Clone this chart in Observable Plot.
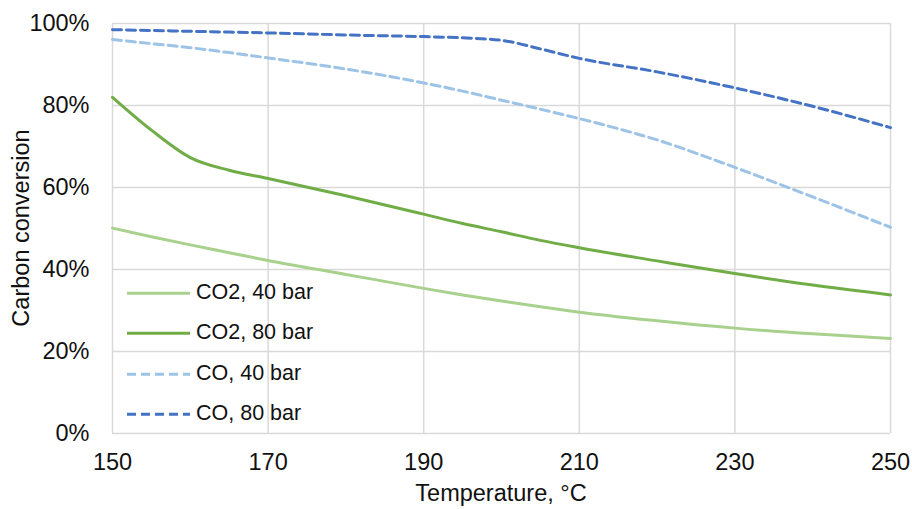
<!DOCTYPE html>
<html>
<head>
<meta charset="utf-8">
<script src="https://cdn.jsdelivr.net/npm/d3@7"></script>
<script src="https://cdn.jsdelivr.net/npm/@observablehq/plot@0.6"></script>
<style>
  body { margin: 0; background: #fff; font-family: "Liberation Sans", Arial, sans-serif; }
  #wrap { position: relative; width: 912px; height: 509px; }
  .lab { position: absolute; font-size: 23.5px; color: #111; white-space: nowrap; line-height: 1; }
  .row { position: absolute; left: 127px; display: flex; align-items: center; font-size: 21.5px; color: #111; line-height: 1; transform: translateY(-50%); white-space: nowrap; }
  .row svg { margin-right: 6px; }
</style>
</head>
<body>
<div id="wrap"></div>
<script>
const temps   = [150, 155, 160, 165, 170, 180, 190, 195, 200, 205, 210, 220, 230, 240, 250];
const co2_40  = [50.1, 48.0, 46.0, 44.1, 42.2, 38.8, 35.4, 33.8, 32.3, 30.9, 29.6, 27.5, 25.7, 24.3, 23.2];
const co2_80  = [82.0, 74.0, 67.3, 64.2, 62.2, 58.0, 53.5, 51.2, 49.2, 47.1, 45.3, 42.1, 39.0, 36.2, 33.8];
const co_40   = [96.1, 95.1, 94.1, 92.9, 91.6, 88.9, 85.5, 83.5, 81.3, 79.1, 76.8, 71.6, 64.9, 57.7, 50.3];
const co_80   = [98.5, 98.3, 98.1, 97.9, 97.7, 97.2, 96.8, 96.5, 95.9, 93.8, 91.5, 88.2, 84.3, 79.8, 74.6];
const seriesNames = ["CO2, 40 bar", "CO2, 80 bar", "CO, 40 bar", "CO, 80 bar"];
const seriesValues = [co2_40, co2_80, co_40, co_80];
const seriesColors = ["#A9D18E", "#70AD47", "#9DC3E6", "#4472C4"];
const seriesDash = [null, null, "9,5", "9,5"];
const xTicks = [150, 170, 190, 210, 230, 250];
const yTicks = [0, 20, 40, 60, 80, 100];

const rows = [];
seriesNames.forEach((name, i) => {
  temps.forEach((t, j) => rows.push({series: name, t, v: seriesValues[i][j] / 100}));
});

const lineMarks = seriesNames.map((name, i) =>
  Plot.line(rows.filter(d => d.series === name), {
    x: "t", y: "v", stroke: seriesColors[i], strokeWidth: 3,
    strokeDasharray: seriesDash[i], curve: "monotone-x"
  })
);

const chart = Plot.plot({
  width: 912, height: 509,
  marginLeft: 112, marginRight: 22, marginTop: 23, marginBottom: 76,
  style: { fontFamily: "'Liberation Sans', Arial, sans-serif", fontSize: "23.5px", color: "#111", background: "#fff" },
  x: { domain: [150, 250], ticks: xTicks },
  y: { domain: [0, 1], ticks: yTicks.map(v => v / 100) },
  marks: [
    Plot.gridX(xTicks, { stroke: "#d9d9d9", strokeOpacity: 1, strokeWidth: 1.5 }),
    Plot.gridY(yTicks.map(v => v / 100), { stroke: "#d9d9d9", strokeOpacity: 1, strokeWidth: 1.5 }),
    Plot.axisX(xTicks, { tickSize: 0, tickPadding: 20, label: null, tickFormat: d => String(d), fontSize: 23.5 }),
    Plot.axisY(yTicks.map(v => v / 100), { tickSize: 0, tickPadding: 23, label: null, tickFormat: d3.format(".0%"), fontSize: 23.5 }),
    ...lineMarks
  ]
});

const wrap = document.getElementById("wrap");
wrap.appendChild(chart);

const xl = document.createElement("div");
xl.className = "lab";
xl.textContent = "Temperature, °C";
xl.style.left = "501px"; xl.style.top = "494px"; xl.style.transform = "translate(-50%, -50%)";
wrap.appendChild(xl);

const yl = document.createElement("div");
yl.className = "lab";
yl.textContent = "Carbon conversion";
yl.style.left = "22px"; yl.style.top = "228px";
yl.style.transform = "translate(-50%, -50%) rotate(-90deg)";
wrap.appendChild(yl);

const legendRowY = [293, 333, 374, 414];
seriesNames.forEach((name, i) => {
  const r = document.createElement("div");
  r.className = "row";
  r.style.top = legendRowY[i] + "px";
  const dash = seriesDash[i] ? ` stroke-dasharray="${seriesDash[i]}"` : "";
  r.innerHTML = `<svg width="63" height="6"><line x1="0" y1="3" x2="63" y2="3" stroke="${seriesColors[i]}" stroke-width="3"${dash}/></svg><span>${name}</span>`;
  wrap.appendChild(r);
});
</script>
</body>
</html>
